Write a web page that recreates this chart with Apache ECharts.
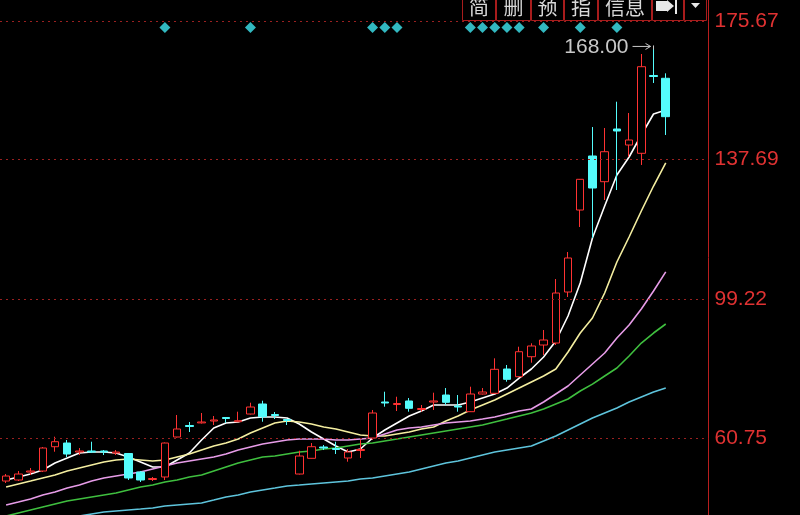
<!DOCTYPE html>
<html><head><meta charset="utf-8">
<script src="https://cdn.jsdelivr.net/npm/echarts@6/dist/echarts.min.js"></script>
<style>html,body{margin:0;padding:0;background:#000;overflow:hidden}#c{width:800px;height:515px}</style>
</head><body><div id="c"></div>
<script>
// ---- data ----
const days = ['1','2','3','4','5','6','7','8','9','10','11','12','13','14','15','16','17','18','19','20',
 '21','22','23','24','25','26','27','28','29','30','31','32','33','34','35','36','37','38','39','40',
 '41','42','43','44','45','46','47','48','49','50','51','52','53','54','55'];
// [open, close, low, high]
const candles = [
 [48.97,50.35,48.42,50.90],[49.25,50.90,48.97,51.73],[51.45,51.73,50.63,52.56],[51.73,58.07,51.45,58.35],
 [58.43,59.81,57.05,61.19],[59.45,56.42,55.59,60.28],[56.97,57.25,56.14,58.07],[57.25,56.97,56.70,59.81],
 [57.25,56.97,56.14,57.52],[56.70,56.97,56.14,57.52],[56.56,49.80,49.25,56.70],[51.45,49.25,48.70,51.73],
 [49.39,49.66,48.97,50.08],[50.08,59.45,49.25,59.60],[61.11,63.32,60.97,67.18],[64.28,64.01,62.49,65.25],
 [65.00,65.25,64.83,67.73],[65.52,65.80,64.42,66.90],[66.49,66.21,65.00,66.63],[65.33,65.61,65.25,68.09],
 [67.45,69.38,67.32,70.57],[70.21,66.71,65.33,71.12],[67.32,67.04,66.07,68.00],[65.93,65.66,64.42,66.07],
 [50.90,55.87,50.77,57.33],[55.23,58.43,55.18,59.45],[58.35,58.07,57.52,58.90],[57.94,57.66,56.42,59.81],
 [55.32,56.97,54.30,57.80],[57.39,57.66,55.32,60.28],[60.83,67.73,60.28,68.56],[70.76,70.49,69.47,73.60],
 [70.07,70.35,68.28,72.22],[71.04,69.02,68.09,71.87],[68.69,68.97,68.09,69.94],[70.76,71.04,68.56,73.33],
 [72.69,70.68,69.94,74.62],[69.66,69.38,68.09,72.69],[68.09,72.97,68.00,74.98],[72.97,73.52,72.83,74.62],
 [73.16,79.78,72.97,82.81],[79.86,77.02,76.36,80.97],[77.74,84.63,77.66,86.01],[83.25,86.21,81.60,86.95],
 [86.48,87.86,83.72,90.62],[87.03,100.82,86.48,104.68],[101.10,110.48,99.72,112.13],[123.71,132.18,119.03,132.26],
 [138.61,129.78,115.99,146.60],[131.52,139.79,126.47,146.33],[146.05,145.50,129.23,153.58],[141.64,143.02,138.41,150.47],
 [139.35,163.23,136.13,166.74],[160.81,160.53,158.74,168.00],[160.04,149.45,144.40,161.41]
];
const ma5 = [49.25,50.08,50.90,52.01,53.94,55.32,56.70,56.97,56.97,56.70,55.59,54.22,52.84,52.84,54.77,56.70,60.28,63.59,64.97,65.25,
 66.35,66.63,66.63,66.35,64.69,62.49,60.56,58.63,56.97,57.80,60.83,63.04,64.97,66.90,68.28,69.94,69.94,69.94,70.76,71.87,
 72.97,74.62,77.38,79.86,83.17,87.59,94.48,103.58,115.99,124.82,133.37,138.33,144.40,150.19,151.29];
const ma10 = [47.32,48.15,48.97,49.80,50.63,51.73,52.56,53.39,54.22,54.77,55.04,54.77,54.49,54.77,55.59,56.42,57.52,58.63,59.45,60.56,
 62.21,63.59,64.97,65.52,65.25,64.69,63.87,63.32,62.49,61.66,61.39,61.39,61.94,62.49,63.32,63.87,65.52,66.90,68.56,69.94,
 71.31,72.97,74.62,76.28,77.93,79.86,84.55,89.79,93.93,100.82,109.37,116.27,123.44,130.33,136.68];
const ma20 = [42.36,43.18,44.01,45.12,45.94,47.04,47.87,48.97,49.80,50.35,50.90,51.45,52.28,53.11,53.94,54.49,55.04,55.59,56.42,57.52,
 58.35,59.18,59.73,60.28,60.56,60.56,60.56,60.28,60.28,60.56,60.83,61.94,63.04,63.59,63.87,64.42,64.97,65.25,65.52,66.07,
 66.63,67.45,68.28,68.83,70.76,72.97,75.17,78.21,81.24,84.28,88.41,92.00,96.41,101.38,106.64];
const ma30 = [39.32,40.15,40.98,41.80,42.63,43.46,44.01,44.56,45.12,45.67,46.49,47.32,47.87,48.70,49.25,50.08,50.63,51.73,52.84,53.94,
 54.77,55.59,55.87,56.42,56.97,57.25,57.80,58.07,58.63,59.18,59.45,60.00,60.56,61.11,61.66,62.21,62.76,63.32,63.87,64.42,
 65.25,66.07,66.90,67.73,68.83,70.21,71.59,73.80,75.70,77.93,80.14,83.45,87.03,89.79,92.28];
const ma60 = [36.84,37.39,37.94,38.22,38.49,38.77,39.32,39.87,40.42,40.70,40.98,41.25,41.53,42.08,42.36,42.63,42.91,43.73,44.56,45.12,
 45.94,46.49,47.04,47.60,47.87,48.15,48.42,48.70,48.97,49.52,49.80,50.35,50.90,51.45,52.28,53.11,53.94,54.49,55.32,56.14,
 56.97,57.52,58.07,58.63,60.00,61.39,63.04,64.69,66.35,67.73,69.11,70.76,72.14,73.52,74.62];
const priceLines = [175.67, 137.69, 99.22, 60.75];
const signalDays = [13,20,30,31,32,38,39,40,41,42,44,47,50];
const signalLevel = [174.05];
const peakDay = 53, peakValue = 168.00;
const buttonLabels = ['简','删','预','指','信息'];

// ---- chart ----
const chart = echarts.init(document.getElementById('c'), null, {renderer:'canvas'});
const maStyle = (name, data, color) => ({
  name, type:'line', data, symbol:'none', smooth:false, silent:true, z:3,
  lineStyle:{color, width:1.6}, clip:true
});
chart.setOption({
  backgroundColor:'#000',
  animation:false,
  grid:{left:-6.15, right:91.5, top:0, bottom:0},
  xAxis:{type:'category', data:days, max:57, boundaryGap:true, show:false},
  yAxis:{type:'value', position:'right', min:39.6, max:181.63, scale:true,
    axisLine:{show:true, lineStyle:{color:'#b81e1e', width:1}},
    axisTick:{show:false}, axisLabel:{show:false}, splitLine:{show:false}},
  series:[
    {name:'K', type:'candlestick', data:candles, barWidth:8, z:4,
     itemStyle:{color:'#000', color0:'#54fcfc', borderColor:'#ff3232', borderColor0:'#54fcfc', borderWidth:1},
     markLine:{silent:true, symbol:'none', animation:false,
       lineStyle:{type:[2,4], color:'#9a2020', width:1},
       label:{position:'end', distance:6, color:'#e03232', fontSize:21, fontFamily:'Liberation Sans, Arial, sans-serif',
         padding:[4,0,0,0], formatter:p=>Number(p.value).toFixed(2)},
       data:priceLines.map(v=>({yAxis:v}))}
    },
    maStyle('MA5', ma5, '#ffffff'),
    maStyle('MA10', ma10, '#f4eea0'),
    maStyle('MA20', ma20, '#e79ce8'),
    maStyle('MA30', ma30, '#3fbf3f'),
    maStyle('MA60', ma60, '#5ec4dc'),
    {name:'signal', type:'scatter', symbol:'diamond', symbolSize:11, z:5,
     itemStyle:{color:'#3fe6f0'},
     data:signalDays.map(d=>[d, signalLevel[0]])}
  ]
});

// annotation for the highest price and top toolbar
const pt = chart.convertToPixel({seriesIndex:0}, [peakDay, peakValue]);
const g = [];
g.push({type:'text', x:pt[0]-25, y:pt[1]-2, style:{text:peakValue.toFixed(2), fill:'#c8c8c8', fontSize:21,
  fontFamily:'Liberation Sans, Arial, sans-serif', align:'right', verticalAlign:'middle'}});
g.push({type:'line', shape:{x1:pt[0]-21, y1:pt[1]-3, x2:pt[0]-3, y2:pt[1]-3}, style:{stroke:'#c8c8c8', lineWidth:1}});
g.push({type:'polyline', shape:{points:[[pt[0]-8,pt[1]-6],[pt[0]-3,pt[1]-3],[pt[0]-8,pt[1]]]}, style:{stroke:'#c8c8c8', lineWidth:1, fill:null}});
g.push({type:'line', shape:{x1:pt[0], y1:pt[1]-4, x2:pt[0], y2:pt[1]+10}, style:{stroke:'#c8c8c8', lineWidth:1}});

const btnEdges = [462, 496, 531, 564, 598, 652, 684, 707];
for (let k=0;k<btnEdges.length-1;k++){
  g.push({type:'rect', shape:{x:btnEdges[k]+0.5, y:-10, width:btnEdges[k+1]-btnEdges[k]-1, height:30.5},
    style:{fill:'#000', stroke:'#a81c1c', lineWidth:1}, z:10});
}
for (let k=0;k<buttonLabels.length;k++){
  g.push({type:'text', x:(btnEdges[k]+btnEdges[k+1])/2, y:7, z:11,
    style:{text:buttonLabels[k], fill:'#d8d8d8', fontSize:20, fontFamily:'Noto Sans CJK SC, sans-serif',
      align:'center', verticalAlign:'middle'}});
}
// icon button
g.push({type:'rect', shape:{x:656, y:1, width:11, height:10}, style:{fill:'#e8e8e8'}, z:11});
g.push({type:'polygon', shape:{points:[[667,0],[674,6],[667,12]]}, style:{fill:'#e8e8e8'}, z:11});
g.push({type:'rect', shape:{x:675, y:0, width:2, height:14}, style:{fill:'#e8e8e8'}, z:11});
// dropdown arrow
g.push({type:'polygon', shape:{points:[[691,3],[700,3],[695.5,8]]}, style:{fill:'#e8e8e8'}, z:11});
chart.setOption({graphic:g});
</script>
</body></html>
